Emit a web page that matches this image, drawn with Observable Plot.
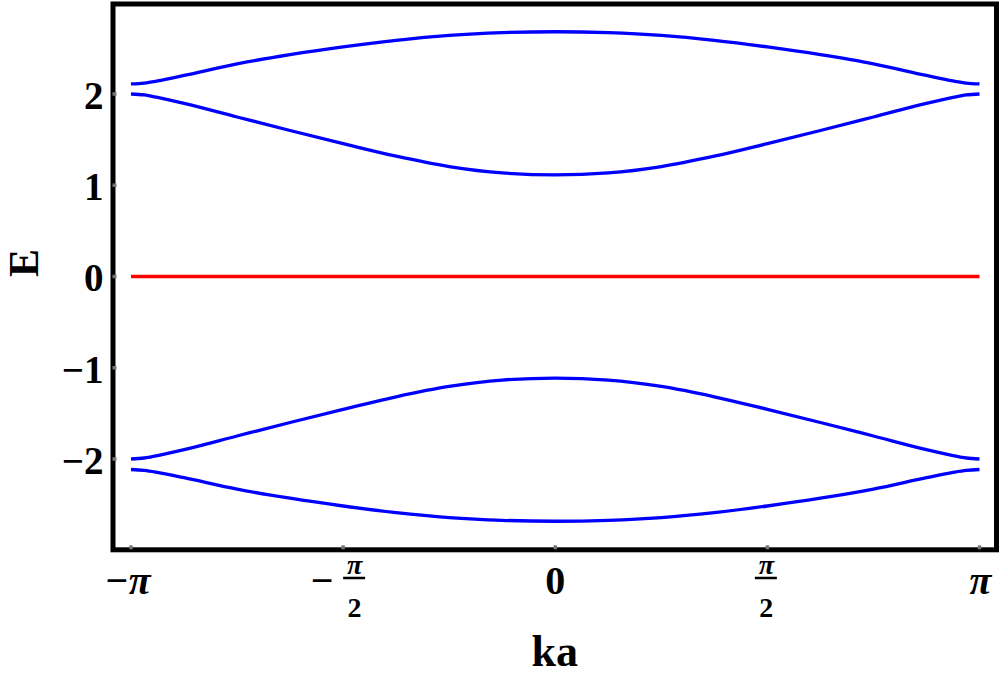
<!DOCTYPE html>
<html>
<head>
<meta charset="utf-8">
<script src="https://cdn.jsdelivr.net/npm/d3@7"></script>
<script src="https://cdn.jsdelivr.net/npm/@observablehq/plot@0.6"></script>
<style>
  html, body { margin: 0; padding: 0; background: #ffffff; }
  #chart { width: 1000px; height: 675px; }
</style>
</head>
<body>
<div id="chart"></div>
<script>
// ---- data ----
// ka sample positions, in units of π
const kaOverPi = [-1, -0.96875, -0.9375, -0.875, -0.75, -0.625, -0.5, -0.375, -0.25, -0.125, 0,
                  0.125, 0.25, 0.375, 0.5, 0.625, 0.75, 0.875, 0.9375, 0.96875, 1];
// upper outer band
const band1 = [2.11, 2.12, 2.143, 2.203, 2.33, 2.43, 2.515, 2.588, 2.642, 2.672, 2.682,
               2.672, 2.642, 2.588, 2.515, 2.43, 2.33, 2.203, 2.143, 2.12, 2.11];
// upper inner band
const band2 = [2.0, 1.989, 1.962, 1.897, 1.748, 1.6, 1.456, 1.318, 1.205, 1.135, 1.113,
               1.135, 1.205, 1.318, 1.456, 1.6, 1.748, 1.897, 1.962, 1.989, 2.0];
// lower inner band
const band4 = [-2.0, -1.989, -1.962, -1.897, -1.748, -1.6, -1.456, -1.318, -1.205, -1.135, -1.113,
               -1.135, -1.205, -1.318, -1.456, -1.6, -1.748, -1.897, -1.962, -1.989, -2.0];
// lower outer band
const band5 = [-2.115, -2.124, -2.146, -2.205, -2.33, -2.43, -2.515, -2.588, -2.642, -2.672, -2.682,
               -2.672, -2.642, -2.588, -2.515, -2.43, -2.33, -2.205, -2.146, -2.124, -2.115];
// flat band (red)
const flatKaOverPi = [-1, 1];
const flatBand = [0, 0];

const yTickValues = [-2, -1, 0, 1, 2];
const yTickLabels = ["−2", "−1", "0", "1", "2"];
const xTickValues = [-Math.PI, -Math.PI / 2, 0, Math.PI / 2, Math.PI];
const xTickSigns = ["−", "−", "", "", ""];
const xTickNumerators = ["π", "π", "0", "π", "π"];
const xTickDenominators = ["", "2", "", "2", ""];
const xLabel = "ka";
const yLabel = "E";

// ---- build tables ----
const blueBands = [["b1", band1], ["b2", band2], ["b4", band4], ["b5", band5]];
const blueRows = blueBands.flatMap(([name, vals]) =>
  vals.map((E, i) => ({band: name, k: kaOverPi[i] * Math.PI, E})));
const flatRows = flatBand.map((E, i) => ({k: flatKaOverPi[i] * Math.PI, E}));

const xDomain = [-1.0424 * Math.PI, 1.0401 * Math.PI];
const yDomain = [-2.995, 2.986];
const bottom = yDomain[0];
const fontFamily = '"Liberation Serif", "Times New Roman", serif';

function xTickLabelMarks(i) {
  const row = [{v: xTickValues[i], sign: xTickSigns[i], num: xTickNumerators[i], den: xTickDenominators[i]}];
  const r = row[0];
  const common = {x: "v", y: () => bottom, fontFamily, fontWeight: "bold", fill: "black", lineAnchor: "bottom"};
  if (!r.den) {
    return [Plot.text(row, {
      ...common, text: d => d.sign + d.num, fontSize: 40,
      fontStyle: r.num === "π" ? "italic" : "normal", textAnchor: "middle",
      dx: r.sign ? -3.5 : (r.num === "π" ? 1 : 0), dy: 44
    })];
  }
  const fx = r.sign ? 11.5 : -1;
  const marks = [];
  if (r.sign) marks.push(Plot.text(row, {...common, text: "sign", fontSize: 40, textAnchor: "end", dx: -9.5, dy: 44}));
  marks.push(Plot.text(row, {...common, text: "num", fontSize: 28, fontStyle: "italic", textAnchor: "middle", dx: fx, dy: 24}));
  marks.push(Plot.rect(row, {x1: "v", x2: "v", y1: () => bottom, y2: () => bottom,
    insetLeft: -11, insetRight: -11, insetTop: -1.25, insetBottom: -1.25, dx: fx, dy: 28.7, fill: "black"}));
  marks.push(Plot.text(row, {...common, text: "den", fontSize: 28, textAnchor: "middle", dx: fx, dy: 66.7}));
  return marks;
}

const plot = Plot.plot({
  width: 1000,
  height: 675,
  marginLeft: 112.5,
  marginRight: 4,
  marginTop: 3.5,
  marginBottom: 125.7,
  style: {background: "#ffffff"},
  x: {domain: xDomain, axis: null},
  y: {domain: yDomain, axis: null},
  marks: [
    Plot.line(blueRows, {x: "k", y: "E", z: "band", stroke: "#0000ff", strokeWidth: 3.3, curve: "monotone-x", strokeLinecap: "butt"}),
    Plot.line(flatRows, {x: "k", y: "E", stroke: "#ff0000", strokeWidth: 3.3, strokeLinecap: "butt"}),
    Plot.frame({stroke: "black", strokeWidth: 5}),
    Plot.axisY({ticks: yTickValues, anchor: "left", tickSize: 4, dx: 4, tickFormat: () => "", label: null, color: "#777777", strokeWidth: 3.5}),
    Plot.axisX({ticks: xTickValues, anchor: "bottom", tickSize: 4, dy: -4, tickFormat: () => "", label: null, color: "#777777", strokeWidth: 3.5}),
    Plot.text(yTickValues, {
      y: d => d, frameAnchor: "left", text: (d, i) => yTickLabels[i],
      textAnchor: "end", lineAnchor: "middle", dx: -9.5, dy: 2.5,
      fontSize: 39, fontWeight: "bold", fontFamily, fill: "black"
    }),
    ...xTickValues.flatMap((v, i) => xTickLabelMarks(i)),
    Plot.text([yLabel], {text: d => d, frameAnchor: "left", dx: -88.5, rotate: -90, lineAnchor: "middle",
      fontSize: 42, fontWeight: "bold", fontFamily, fill: "black"}),
    Plot.text([xLabel], {text: d => d, frameAnchor: "bottom", dy: 115.7, lineAnchor: "bottom",
      fontSize: 44, fontWeight: "bold", fontFamily, fill: "black"})
  ]
});
document.getElementById("chart").appendChild(plot);
</script>
</body>
</html>
